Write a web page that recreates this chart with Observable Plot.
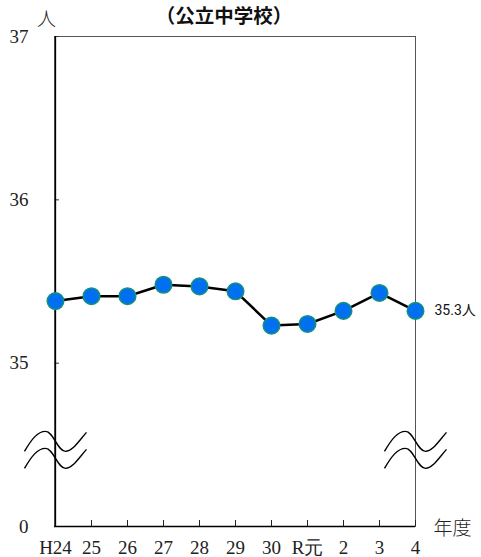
<!DOCTYPE html>
<html>
<head>
<meta charset="utf-8">
<script src="https://cdn.jsdelivr.net/npm/d3@7"></script>
<script src="https://cdn.jsdelivr.net/npm/@observablehq/plot@0.6"></script>
<style>
  html, body { margin: 0; padding: 0; background: #fff; }
  #chart svg { display: block; }
</style>
</head>
<body>
<div id="chart"></div>
<script>
const years = ["H24", "25", "26", "27", "28", "29", "30", "R元", "2", "3", "4"];
const values = [35.38, 35.41, 35.41, 35.48, 35.47, 35.44, 35.23, 35.24, 35.32, 35.43, 35.32];
const yTicks = [34, 35, 36, 37];
const yTickLabels = ["0", "35", "36", "37"];
const title = "（公立中学校）";
const lastLabel = "35.3人";
const yUnit = "人";
const xUnit = "年度";
const breakValue = 34.46;
const breakAt = ["H24", "4"];

const data = years.map((y, i) => ({year: y, value: values[i]}));

const W = 481, H = 557, ML = 54, MR = 66, MT = 36, MB = 31;
const frameW = W - ML - MR, frameH = H - MT - MB;

const waveSvg = `<svg xmlns="http://www.w3.org/2000/svg" width="64" height="42" viewBox="0 0 64 42">` +
  `<g fill="none" stroke="black" stroke-width="1.4">` +
  `<path d="M1,21 C8,9 14,1 22,1 C30,1 34,21 42,21 C49,21 55,11 63,2"/>` +
  `<path d="M1,38 C8,26 14,18 22,18 C30,18 34,38 42,38 C49,38 55,28 63,19"/>` +
  `</g></svg>`;
const waveSrc = "data:image/svg+xml;charset=utf-8," + encodeURIComponent(waveSvg);

const serif = "Liberation Serif, Times New Roman, DejaVu Serif, serif";
const cjk = "Noto Sans CJK JP, sans-serif";

const chart = Plot.plot({
  width: W,
  height: H,
  marginLeft: ML,
  marginRight: MR,
  marginTop: MT,
  marginBottom: MB,
  style: {fontSize: "19px", color: "#222", background: "#fff"},
  x: {type: "point", domain: years, padding: 0, axis: null},
  y: {domain: [34, 37], axis: null},
  marks: [
    Plot.frame({stroke: "#555", strokeWidth: 1}),
    Plot.text(yTicks, {y: d => d, text: d => yTickLabels[yTicks.indexOf(d)], frameAnchor: "left", dx: -26, textAnchor: "end", lineAnchor: "middle", fontFamily: serif, fontSize: 19, fill: "#222"}),
    Plot.tickY(yTicks, {y: d => d, insetRight: frameW - 5, stroke: "#333", strokeWidth: 1}),
    Plot.text(years, {x: d => d, text: d => d, frameAnchor: "bottom", dy: 21, lineAnchor: "middle", fontFamily: serif, fontSize: 19, fill: "#222"}),
    Plot.tickX(years, {x: d => d, insetTop: frameH - 6, stroke: "#222", strokeWidth: 1}),
    Plot.ruleX([years[0]], {stroke: "black", strokeWidth: 1.3}),
    Plot.ruleY([34], {stroke: "black", strokeWidth: 1.3}),
    Plot.image(breakAt, {x: d => d, y: () => breakValue, src: () => waveSrc, width: 64, height: 42}),
    Plot.line(data, {x: "year", y: "value", stroke: "black", strokeWidth: 2.5}),
    Plot.dot(data, {x: "year", y: "value", r: 8.3, fill: "#0070f0", stroke: "#17907c", strokeWidth: 1.5}),
    Plot.text([data[data.length - 1]], {x: "year", y: "value", text: () => lastLabel, dx: 19, textAnchor: "start", fontFamily: "Roboto, Noto Sans CJK JP, sans-serif", fontSize: 14, fill: "#111"}),
    Plot.text([title], {frameAnchor: "top", dx: -11, dy: -20, lineAnchor: "middle", fontFamily: cjk, fontWeight: "bold", fontSize: 19.5, fill: "#111"}),
    Plot.text([yUnit], {frameAnchor: "top-left", dx: -8, dy: -17, lineAnchor: "middle", textAnchor: "middle", fontFamily: cjk, fontWeight: 300, fontSize: 19, fill: "#222"}),
    Plot.text([xUnit], {frameAnchor: "bottom-right", dx: 18, dy: 2, lineAnchor: "middle", textAnchor: "start", fontFamily: cjk, fontWeight: 300, fontSize: 19, fill: "#222"})
  ]
});
document.getElementById("chart").appendChild(chart);
</script>
</body>
</html>
